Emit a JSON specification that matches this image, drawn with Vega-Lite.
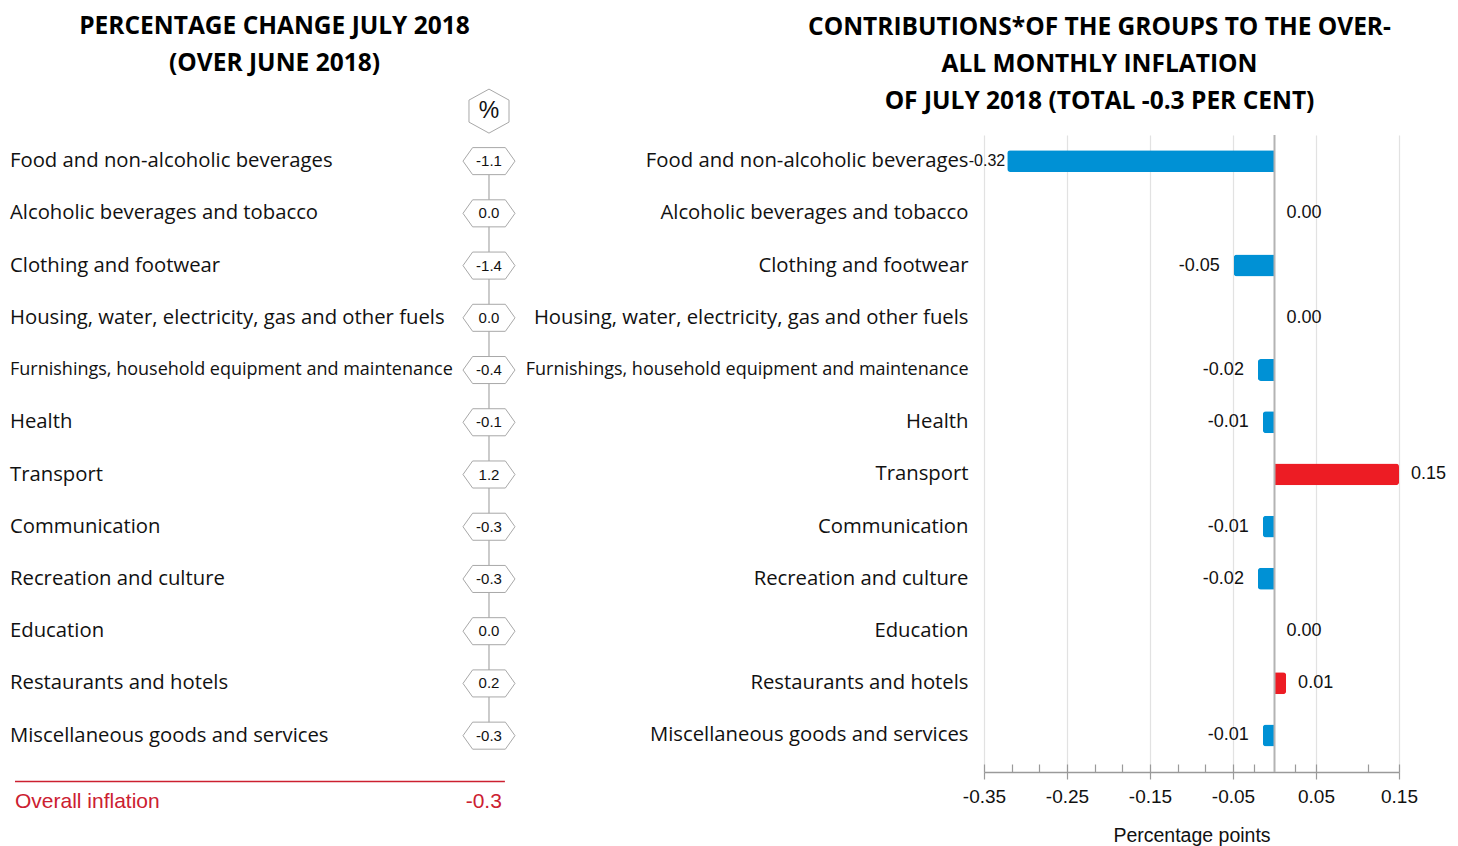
{
  "$schema": "https://vega.github.io/schema/vega-lite/v6.json",
  "padding": {"left": 10, "top": 13, "right": 5, "bottom": 2},
  "bounds": "flush",
  "spacing": 469,
  "config": {
    "view": {"stroke": null},
    "locale": {"number": {"decimal": ".", "thousands": ",", "grouping": [3], "currency": ["", ""], "minus": "-"}}
  },
  "datasets": {
    "groups": [
      {"group": "Food and non-alcoholic beverages", "change": -1.1, "contrib": -0.322},
      {"group": "Alcoholic beverages and tobacco", "change": 0.0, "contrib": 0},
      {"group": "Clothing and footwear", "change": -1.4, "contrib": -0.049},
      {"group": "Housing, water, electricity, gas and other fuels", "change": 0.0, "contrib": 0},
      {"group": "Furnishings, household equipment and maintenance", "change": -0.4, "contrib": -0.02},
      {"group": "Health", "change": -0.1, "contrib": -0.014},
      {"group": "Transport", "change": 1.2, "contrib": 0.15},
      {"group": "Communication", "change": -0.3, "contrib": -0.014},
      {"group": "Recreation and culture", "change": -0.3, "contrib": -0.02},
      {"group": "Education", "change": 0.0, "contrib": 0},
      {"group": "Restaurants and hotels", "change": 0.2, "contrib": 0.014},
      {"group": "Miscellaneous goods and services", "change": -0.3, "contrib": -0.014},
      {"group": "Overall inflation", "change": -0.3, "contrib": null}
    ]
  },
  "hconcat": [
    {
      "width": 505,
      "height": 679,
      "data": {"name": "groups"},
      "title": {
        "text": ["PERCENTAGE CHANGE JULY 2018", "(OVER JUNE 2018)"],
        "font": "Open Sans", "fontWeight": "bold", "fontSize": 24.5, "lineHeight": 37,
        "color": "#000", "dx": 12, "offset": 11
      },
      "layer": [
        {
          "data": {"values": [{}]},
          "mark": {"type": "rule", "color": "#a8a8a8", "strokeWidth": 1.2},
          "encoding": {
            "x": {"datum": 0.9485, "type": "quantitative", "scale": {"domain": [0, 1], "nice": false}, "axis": null},
            "y": {"datum": "Food and non-alcoholic beverages", "type": "nominal",
                  "scale": {"domain": ["Food and non-alcoholic beverages", "Alcoholic beverages and tobacco", "Clothing and footwear", "Housing, water, electricity, gas and other fuels", "Furnishings, household equipment and maintenance", "Health", "Transport", "Communication", "Recreation and culture", "Education", "Restaurants and hotels", "Miscellaneous goods and services", "Overall inflation"], "paddingInner": 0, "paddingOuter": 0},
                  "axis": null},
            "y2": {"datum": "Miscellaneous goods and services"}
          }
        },
        {
          "transform": [{"filter": "datum.group !== 'Overall inflation'"}],
          "mark": {"type": "text", "align": "left", "baseline": "middle", "font": "Open Sans", "color": "#111"},
          "encoding": {
            "x": {"datum": 0, "type": "quantitative"},
            "y": {"field": "group", "type": "nominal"},
            "text": {"field": "group"},
            "size": {"condition": {"test": "datum.group === 'Furnishings, household equipment and maintenance'", "value": 18}, "value": 20.3}
          }
        },
        {
          "transform": [{"filter": "datum.group !== 'Overall inflation'"}],
          "mark": {"type": "point", "shape": "M-1,0L-0.63,-0.52L0.63,-0.52L1,0L0.63,0.52L-0.63,0.52Z", "size": 2704, "filled": true, "fill": "white", "stroke": "#a8a8a8", "strokeWidth": 1, "opacity": 1},
          "encoding": {
            "x": {"datum": 0.9485, "type": "quantitative"},
            "y": {"field": "group", "type": "nominal"}
          }
        },
        {
          "transform": [{"filter": "datum.group !== 'Overall inflation'"}],
          "mark": {"type": "text", "align": "center", "baseline": "middle", "font": "Liberation Sans", "fontSize": 15, "color": "#111"},
          "encoding": {
            "x": {"datum": 0.9485, "type": "quantitative"},
            "y": {"field": "group", "type": "nominal"},
            "text": {"field": "change", "type": "quantitative", "format": ".1f"}
          }
        },
        {
          "data": {"values": [{"unit": "%"}]},
          "mark": {"type": "point", "shape": "M0,-1L0.91,-0.5L0.91,0.5L0,1L-0.91,0.5L-0.91,-0.5Z", "size": 1936, "filled": true, "fill": "white", "stroke": "#a8a8a8", "strokeWidth": 1, "opacity": 1, "yOffset": -50},
          "encoding": {
            "x": {"datum": 0.9485, "type": "quantitative"},
            "y": {"datum": "Food and non-alcoholic beverages", "type": "nominal"}
          }
        },
        {
          "data": {"values": [{"unit": "%"}]},
          "mark": {"type": "text", "align": "center", "baseline": "middle", "font": "Liberation Sans", "fontSize": 23, "color": "#111", "yOffset": -50},
          "encoding": {
            "x": {"datum": 0.9485, "type": "quantitative"},
            "y": {"datum": "Food and non-alcoholic beverages", "type": "nominal"},
            "text": {"field": "unit"}
          }
        },
        {
          "transform": [{"filter": "datum.group === 'Overall inflation'"}],
          "mark": {"type": "rule", "color": "#cc2030", "strokeWidth": 1.5, "yOffset": -6.5},
          "encoding": {
            "x": {"datum": 0.0099, "type": "quantitative"},
            "x2": {"datum": 0.98},
            "y": {"field": "group", "type": "nominal"}
          }
        },
        {
          "transform": [{"filter": "datum.group === 'Overall inflation'"}],
          "mark": {"type": "text", "align": "left", "baseline": "middle", "font": "Liberation Sans", "fontSize": 21, "color": "#cc2030", "dy": 14},
          "encoding": {
            "x": {"datum": 0.0099, "type": "quantitative"},
            "y": {"field": "group", "type": "nominal"},
            "text": {"field": "group"}
          }
        },
        {
          "transform": [{"filter": "datum.group === 'Overall inflation'"}],
          "mark": {"type": "text", "align": "right", "baseline": "middle", "font": "Liberation Sans", "fontSize": 21, "color": "#cc2030", "dy": 14},
          "encoding": {
            "x": {"datum": 0.974, "type": "quantitative"},
            "y": {"field": "group", "type": "nominal"},
            "text": {"field": "change", "type": "quantitative", "format": ".1f"}
          }
        }
      ]
    },
    {
      "width": 415,
      "height": 637,
      "data": {"name": "groups"},
      "transform": [{"filter": "datum.group !== 'Overall inflation'"}],
      "title": {
        "text": ["CONTRIBUTIONS*OF THE GROUPS TO THE OVER-", "ALL MONTHLY INFLATION", "OF JULY 2018 (TOTAL -0.3 PER CENT)"],
        "font": "Open Sans", "fontWeight": "bold", "fontSize": 24.5, "lineHeight": 37,
        "color": "#000", "dx": -92, "offset": 20
      },
      "resolve": {"axis": {"x": "independent"}},
      "layer": [
        {
          "transform": [{"filter": "datum.contrib < 0"}],
          "mark": {"type": "bar", "color": "#0091d5", "height": {"band": 0.42}, "cornerRadiusTopLeft": 3, "cornerRadiusBottomLeft": 3},
          "encoding": {
            "x": {"field": "contrib", "type": "quantitative",
                  "scale": {"domain": [-0.35, 0.15], "nice": false, "zero": false},
                  "axis": {
                    "orient": "bottom",
                    "values": [-0.35, -0.25, -0.15, -0.05, 0.05, 0.15],
                    "format": ".2f",
                    "labelFlush": false,
                    "title": "Percentage points",
                    "titleFont": "Liberation Sans", "titleFontSize": 19.5, "titleFontWeight": "normal", "titleColor": "#111", "titlePadding": 20,
                    "labelFont": "Liberation Sans", "labelFontSize": 19, "labelColor": "#111", "labelPadding": 8,
                    "tickSize": 7, "tickColor": "#9a9a9a", "tickWidth": 1.2,
                    "domainColor": "#9a9a9a", "domainWidth": 1.5,
                    "grid": true, "gridColor": "#e2e2e2", "gridWidth": 1.2
                  }},
            "y": {"field": "group", "type": "nominal",
                  "scale": {"domain": ["Food and non-alcoholic beverages", "Alcoholic beverages and tobacco", "Clothing and footwear", "Housing, water, electricity, gas and other fuels", "Furnishings, household equipment and maintenance", "Health", "Transport", "Communication", "Recreation and culture", "Education", "Restaurants and hotels", "Miscellaneous goods and services"], "paddingInner": 0, "paddingOuter": 0.1, "align": 0},
                  "axis": {
                    "title": null, "ticks": false, "domain": false, "labelPadding": 16, "labelLimit": 0,
                    "labelFont": "Open Sans", "labelColor": "#111",
                    "labelFontSize": {"condition": {"test": "datum.value === 'Furnishings, household equipment and maintenance'", "value": 18}, "value": 20.3}
                  }}
          }
        },
        {
          "transform": [{"filter": "datum.contrib > 0"}],
          "mark": {"type": "bar", "color": "#ed1c24", "height": {"band": 0.42}, "cornerRadiusTopRight": 3, "cornerRadiusBottomRight": 3},
          "encoding": {
            "x": {"field": "contrib", "type": "quantitative", "axis": null},
            "y": {"field": "group", "type": "nominal"}
          }
        },
        {
          "data": {"values": [{}]},
          "mark": {"type": "rule", "color": "#b3b3b3", "strokeWidth": 2},
          "encoding": {
            "x": {"datum": 0, "type": "quantitative",
                  "axis": {"orient": "bottom", "values": [-0.35, -0.3167, -0.2833, -0.25, -0.2167, -0.1833, -0.15, -0.1167, -0.0833, -0.05, -0.025, 0.025, 0.05, 0.1125, 0.15],
                           "tickSize": -8, "tickColor": "#9a9a9a", "tickWidth": 1.2, "labels": false, "domain": false, "grid": false, "title": null}}
          }
        },
        {
          "transform": [{"filter": "datum.contrib < 0 && datum.contrib >= -0.3"}],
          "mark": {"type": "text", "align": "right", "baseline": "middle", "dx": -14, "font": "Liberation Sans", "fontSize": 18, "color": "#111"},
          "encoding": {
            "x": {"field": "contrib", "type": "quantitative", "axis": null},
            "y": {"field": "group", "type": "nominal"},
            "text": {"field": "contrib", "type": "quantitative", "format": ".2f"}
          }
        },
        {
          "transform": [{"filter": "datum.contrib < -0.3"}],
          "mark": {"type": "text", "align": "right", "baseline": "middle", "dx": -2, "font": "Liberation Sans", "fontSize": 16, "color": "#111"},
          "encoding": {
            "x": {"field": "contrib", "type": "quantitative", "axis": null},
            "y": {"field": "group", "type": "nominal"},
            "text": {"field": "contrib", "type": "quantitative", "format": ".2f"}
          }
        },
        {
          "transform": [{"filter": "datum.contrib >= 0"}],
          "mark": {"type": "text", "align": "left", "baseline": "middle", "dx": 12, "font": "Liberation Sans", "fontSize": 18, "color": "#111"},
          "encoding": {
            "x": {"field": "contrib", "type": "quantitative", "axis": null},
            "y": {"field": "group", "type": "nominal"},
            "text": {"field": "contrib", "type": "quantitative", "format": ".2f"}
          }
        }
      ]
    }
  ]
}
